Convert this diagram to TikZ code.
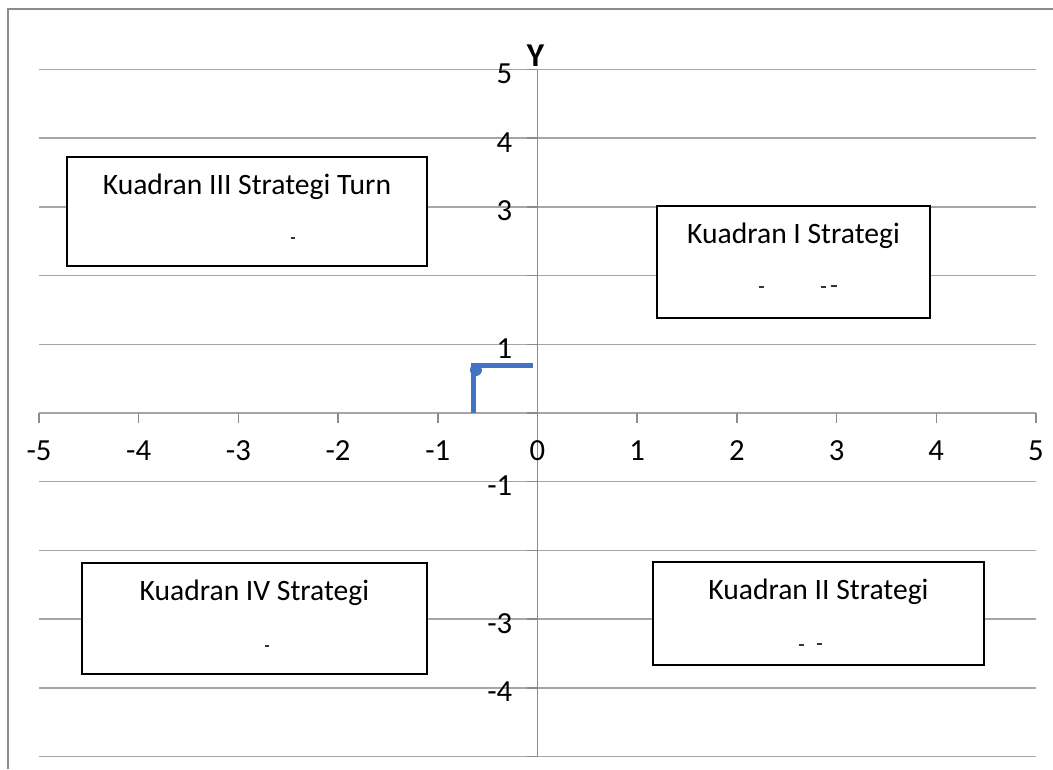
\documentclass[tikz,border=0pt]{standalone}
\usepackage{fontspec}
\setmainfont{Carlito}
\usepackage{tikz}
\usetikzlibrary{positioning}
\definecolor{seriesblue}{HTML}{4472C4}
\tikzset{
    quadrant chart/.style={
            x=74.775pt,y=51.525pt,
            gridline/.style={draw=black!35,line width=1.1pt},
            axisline/.style={draw=black!45,line width=1.1pt},
            ticklabel/.style={font=\fontsize{23}{27}\selectfont,inner sep=0pt},
            quadbox/.style={draw=black,fill=white,line width=1.6pt},
            boxtext/.style={font=\fontsize{22.2}{26}\selectfont,inner sep=0pt},
            series/.style={draw=seriesblue,line width=4pt},
            fragment/.style={draw=black!80,line width=0.9pt}
        }
    }

\begin{document}
\begin{tikzpicture}[quadrant chart]
    \useasboundingbox (-5.391,-5.182) rectangle (5.171,6.012);
    % chart frame
    \coordinate (fb) at (-5.311,-5.182);
    \coordinate (fl) at (-5.311,5.881);
    \coordinate (fr) at (5.171,5.881);
    \draw [axisline] (fb) -- (fl) -- (fr);
    % grid and axes
    \foreach \y in {-5,...,5}
        \draw [gridline] (-5,\y) -- (5,\y);
    \draw [axisline] (0,-5) -- (0,5);
    \foreach \x in {-5,...,5}
        \draw [axisline] (\x,0) -- (\x,-0.15);
    \foreach \y in {-5,...,5}
        \draw [axisline] (-0.1,\y) -- (0,\y);
    \foreach \x [count=\i] in {-5,...,5}
        \node [ticklabel] (xl\i) at (\x,-0.553) {\x};
    \foreach \y [count=\i] in {5,4,3,1,-1,-3,-4}
        \node [ticklabel,anchor=east] (yl\i) at ({-0.25},{\y-0.06}) {\y};
    \node [ticklabel,font=\bfseries\fontsize{25}{29}\selectfont] (ytitle) at (-0.02,5.2) {Y};
    % quadrant boxes
    \node [quadbox,minimum width=270pt,minimum height=81.75pt] (kIII) at (-2.914,2.933) {};
    \node [boxtext,below=13pt of kIII.north] (tIII) {Kuadran III Strategi Turn};
    \node [quadbox,minimum width=204.75pt,minimum height=84pt] (kI) at (2.568,2.198) {};
    \node [boxtext,below=13pt of kI.north] (tI) {Kuadran I Strategi};
    \node [quadbox,minimum width=248.25pt,minimum height=77.25pt] (kII) at (2.818,-2.918) {};
    \node [boxtext,below=13pt of kII.north] (tII) {Kuadran II Strategi};
    \node [quadbox,minimum width=258.75pt,minimum height=83.25pt] (kIV) at (-2.839,-2.991) {};
    \node [boxtext,below=13pt of kIV.north] (tIV) {Kuadran IV Strategi};
    % cut off second lines
    \draw [fragment] (-2.47,2.547) -- ++(3pt,0);
    \draw [fragment] (-2.73,-3.392) -- ++(3pt,0);
    \draw [fragment] (2.22,1.834) -- ++(4pt,0);
    \draw [fragment] (2.84,1.834) -- ++(4pt,0);
    \draw [fragment,line width=1.4pt] (2.94,1.849) -- ++(5pt,0);
    \draw [fragment] (2.62,-3.377) -- ++(4pt,0);
    \draw [fragment] (2.80,-3.362) -- ++(4pt,0);
    % position of the data point
    \coordinate (s0) at (-0.64,0);
    \coordinate (s1) at (-0.64,0.69);
    \coordinate (s2) at (-0.04,0.69);
    \draw [series] (s0) -- (s1) -- (s2);
    \node [circle,fill=seriesblue,inner sep=0pt,minimum size=9pt] (pt) at (-0.617,0.626) {};
\end{tikzpicture}
\end{document}
